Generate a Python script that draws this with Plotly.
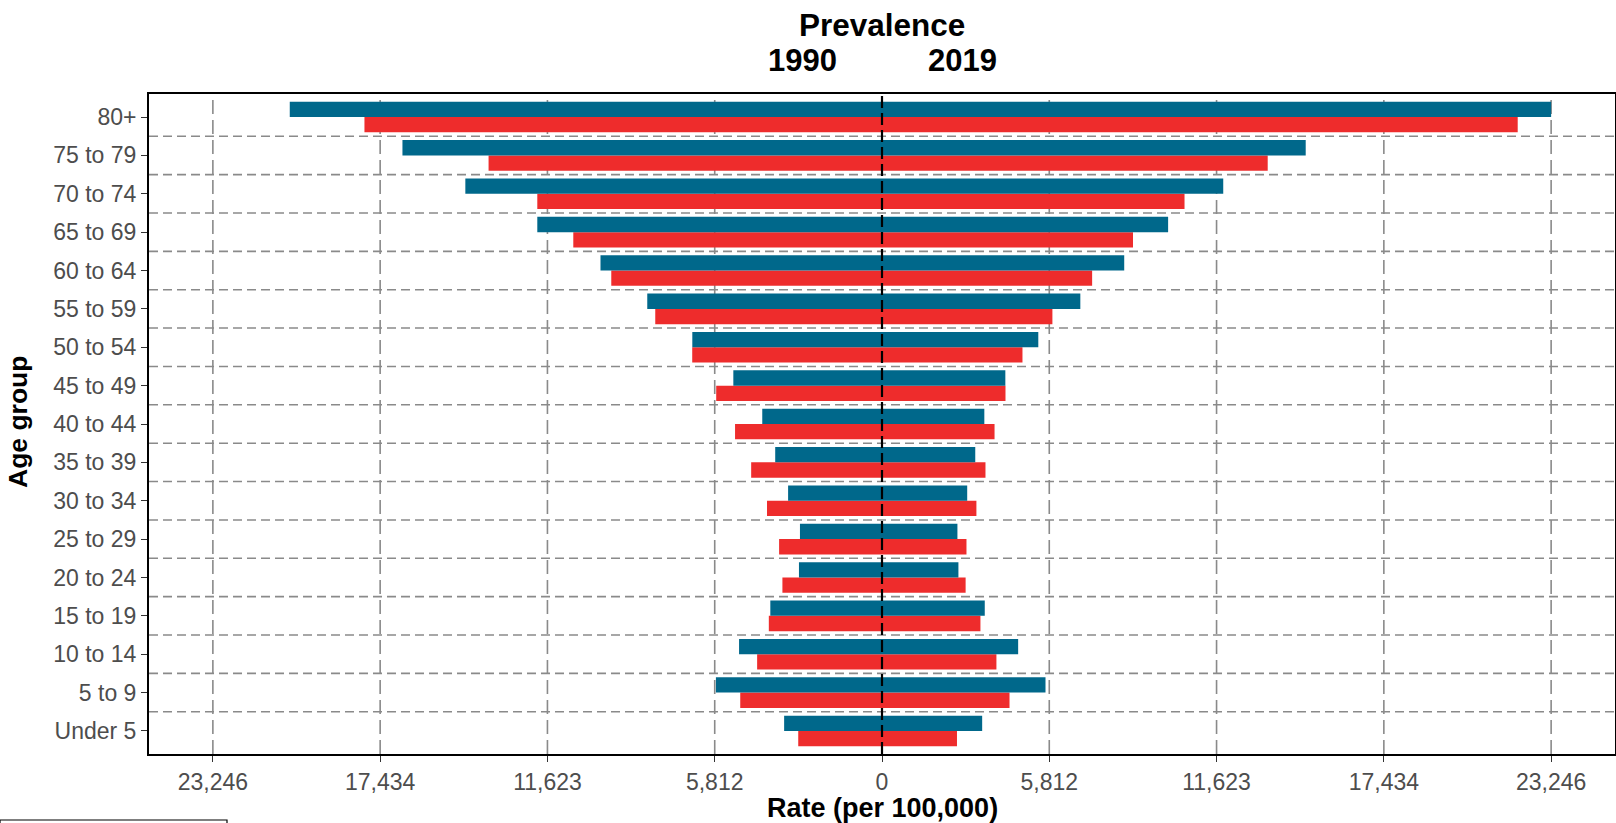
import plotly.graph_objects as go

# ---------------- data ----------------
ages = ["Under 5", "5 to 9", "10 to 14", "15 to 19", "20 to 24", "25 to 29",
        "30 to 34", "35 to 39", "40 to 44", "45 to 49", "50 to 54", "55 to 59",
        "60 to 64", "65 to 69", "70 to 74", "75 to 79", "80+"]

male_1990 = [3400, 5770, 4966, 3880, 2885, 2850, 3262, 3710, 4160, 5165,
             6590, 8155, 9780, 11975, 14475, 16660, 20575]
female_1990 = [2910, 4925, 4338, 3932, 3460, 3575, 3995, 4545, 5105, 5760,
               6593, 7877, 9405, 10725, 11975, 13668, 17980]
male_2019 = [3480, 5680, 4730, 3570, 2655, 2620, 2960, 3240, 3555, 4285,
             5430, 6890, 8415, 9940, 11855, 14720, 23246]
female_2019 = [2605, 4430, 3975, 3420, 2905, 2935, 3280, 3595, 3910, 4290,
               4880, 5920, 7300, 8720, 10510, 13400, 22085]

BLUE = "#00688B"
RED = "#EE2C2C"
FONT = "Liberation Sans, Arial, sans-serif"

vmax = max(male_2019 + female_2019 + male_1990 + female_1990)
tickvals = [vmax * k / 4 for k in range(-4, 5)]
ticktext = [f"{round(abs(v)):,}" for v in tickvals]

fig = go.Figure()
for vals, color, off, side in [
    (female_1990, RED, -0.4, -1), (female_2019, RED, -0.4, 1),
    (male_1990, BLUE, 0.0, -1), (male_2019, BLUE, 0.0, 1),
]:
    fig.add_trace(go.Bar(
        y=ages, x=[side * v for v in vals], orientation="h",
        marker=dict(color=color, line=dict(width=0)),
        offset=off, width=0.4, showlegend=False,
    ))

span = 25465
shapes = []
# horizontal dashed separators between age groups
for i in range(len(ages) - 1):
    shapes.append(dict(type="line", xref="paper", x0=0, x1=1, yref="y",
                       y0=i + 0.5, y1=i + 0.5, layer="below",
                       line=dict(color="#8a8a8a", width=1.6, dash="9px,5px")))
# vertical dashed grid at ticks (not zero)
for v in tickvals:
    if v == 0:
        continue
    shapes.append(dict(type="line", xref="x", x0=v, x1=v, yref="paper",
                       y0=0, y1=1, layer="below",
                       line=dict(color="#8a8a8a", width=1.6, dash="14px,6px")))
# zero line
shapes.append(dict(type="line", xref="x", x0=0, x1=0, yref="paper", y0=0, y1=1,
                   layer="above", line=dict(color="black", width=2.2, dash="12px,5px")))

W, H = 1616, 823
L, R, T, B = 149, 1, 94, 69
pw, ph = W - L - R, H - T - B


def px(x):
    return (x - L) / pw


def py(y):
    return (H - B - y) / ph


# cut-off legend box
shapes.append(dict(type="rect", xref="paper", yref="paper",
                   x0=px(0), x1=px(227), y0=py(900), y1=py(820),
                   line=dict(color="black", width=1.2), fillcolor="rgba(0,0,0,0)"))


def ann(text, x, y, size, angle=0):
    return dict(text=text, x=px(x), y=py(y), xref="paper", yref="paper",
                xanchor="center", yanchor="middle", showarrow=False,
                textangle=angle, font=dict(size=size, color="black", family=FONT))


annotations = [
    ann("<b>Prevalence</b>", 882.5, 25, 31.5),
    ann("<b>1990</b>", 802, 60, 31),
    ann("<b>2019</b>", 962, 60, 31),
    ann("<b>Rate (per 100,000)</b>", 882.5, 808, 27),
    ann("<b>Age group</b>", 18, 422, 26.5, -90),
]

fig.update_layout(
    width=W, height=H,
    margin=dict(l=L, r=R, t=T, b=B, pad=0),
    barmode="overlay",
    paper_bgcolor="white", plot_bgcolor="white",
    font=dict(family=FONT),
    shapes=shapes, annotations=annotations,
    xaxis=dict(range=[-span, span], tickvals=tickvals, ticktext=ticktext,
               showgrid=False, zeroline=False, showline=True, mirror=True,
               automargin=False,
               linecolor="black", linewidth=2, ticks="outside", ticklen=6,
               tickcolor="#333333", tickwidth=1,
               tickfont=dict(size=23, color="#4D4D4D", family=FONT)),
    yaxis=dict(type="category", categoryorder="array", categoryarray=ages,
               range=[-0.6, len(ages) - 0.4], automargin=False,
               showgrid=False, zeroline=False, showline=True, mirror=True,
               linecolor="black", linewidth=2, ticks="outside", ticklen=6,
               tickcolor="#333333", tickwidth=1,
               tickfont=dict(size=23, color="#4D4D4D", family=FONT)),
)

fig.write_html("out.html", config={"displayModeBar": False},
               post_script="document.body.style.margin='0';document.body.style.overflow='hidden';")
